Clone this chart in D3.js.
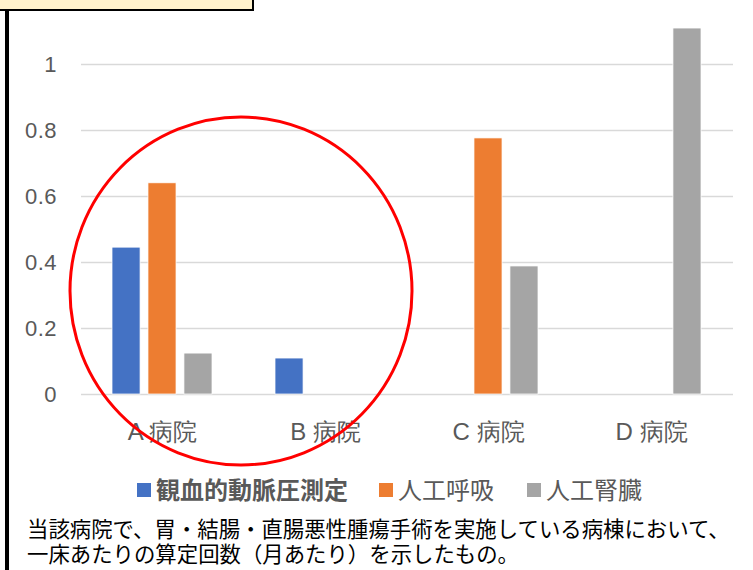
<!DOCTYPE html>
<html>
<head>
<meta charset="utf-8">
<script src="https://cdn.jsdelivr.net/npm/d3@7"></script>
<style>
  body { margin: 0; background: #fff; }
  svg { display: block; font-family: "Noto Sans CJK JP", "Noto Sans", sans-serif; }
</style>
</head>
<body>
<div id="chart"></div>
<script>
var width = 753
var height = 570

// data
var hospitals = ["A 病院", "B 病院", "C 病院", "D 病院"]
var seriesNames = ["観血的動脈圧測定", "人工呼吸", "人工腎臓"]
var seriesColors = ["#4472c4", "#ed7d31", "#a5a5a5"]
var arterial = [0.445, 0.109, null, null]
var ventilation = [0.64, null, 0.776, null]
var dialysis = [0.124, null, 0.388, 1.109]
var yTicks = [0, 0.2, 0.4, 0.6, 0.8, 1]
var captionLines = [
  "当該病院で、胃・結腸・直腸悪性腫瘍手術を実施している病棟において、",
  "一床あたりの算定回数（月あたり）を示したもの。"
]

var seriesValues = [arterial, ventilation, dialysis]

var svg = d3.select("#chart")
  .append("svg")
  .attr("width", width)
  .attr("height", height)

var plotLeft = 81
var plotRight = 733

// scales
var xScale = d3.scaleBand()
  .domain(hospitals)
  .range([plotLeft, plotRight])
  .paddingInner(0)
  .paddingOuter(0)

var xInner = d3.scaleBand()
  .domain(seriesNames)
  .range([31, 131])
  .paddingInner(0.22)

var yScale = d3.scaleLinear()
  .domain([0, 1])
  .range([394, 64])

// grid
var yGrid = d3.axisLeft(yScale)
  .tickValues(yTicks)
  .tickSize(-(plotRight - plotLeft))
  .tickFormat("")

svg.append("g")
  .attr("transform", `translate(${plotLeft},0)`)
  .attr("class", "grid")
  .call(yGrid)
  .call(g => g.select(".domain").remove())
  .selectAll("line")
  .style("stroke", "#d9d9d9")
  .style("stroke-width", 1.5)

// y axis labels
var yAxis = d3.axisLeft(yScale)
  .tickValues(yTicks)
  .tickSize(0)
  .tickPadding(0)
  .tickFormat(d => d)

svg.append("g")
  .attr("transform", `translate(57,0)`)
  .call(yAxis)
  .call(g => g.select(".domain").remove())
  .selectAll("text")
  .style("font-size", "22px")
  .style("letter-spacing", "0.5px")
  .style("fill", "#595959")

// x axis labels
var xAxis = d3.axisBottom(xScale)
  .tickSize(0)
  .tickPadding(0)

svg.append("g")
  .attr("transform", `translate(0,431)`)
  .call(xAxis)
  .call(g => g.select(".domain").remove())
  .selectAll("text")
  .attr("dy", "0.36em")
  .style("font-size", "24px")
  .style("fill", "#595959")

// bars
seriesValues.forEach(function(values, si) {
  var rows = hospitals.map((h, i) => ({ hospital: h, value: values[i] }))
    .filter(d => d.value != null)
  svg.append("g")
    .selectAll("rect")
    .data(rows)
    .enter()
    .append("rect")
    .attr("x", d => xScale(d.hospital) + xInner(seriesNames[si]))
    .attr("width", xInner.bandwidth())
    .attr("y", d => yScale(d.value))
    .attr("height", d => yScale(0) - yScale(d.value))
    .style("fill", seriesColors[si])
    .style("stroke", "#ffffff")
    .style("stroke-width", 0.75)
})

// legend
var legendX = [137, 379, 527]
var legend = svg.append("g")
  .selectAll("g")
  .data(seriesNames)
  .enter()
  .append("g")
  .attr("transform", (d, i) => `translate(${legendX[i]},490)`)

legend.append("rect")
  .attr("x", 0)
  .attr("y", -7)
  .attr("width", 14)
  .attr("height", 14)
  .style("fill", (d, i) => seriesColors[i])

legend.append("text")
  .attr("x", 19)
  .attr("dy", "0.36em")
  .style("font-size", "24px")
  .style("font-weight", (d, i) => i === 0 ? "700" : "400")
  .style("fill", "#595959")
  .text(d => d)

// red circle annotation
svg.append("ellipse")
  .attr("cx", 241)
  .attr("cy", 291)
  .attr("rx", 171)
  .attr("ry", 174)
  .style("fill", "none")
  .style("stroke", "#ff0000")
  .style("stroke-width", 3)

// left border line and top box
svg.append("line")
  .attr("x1", 7)
  .attr("x2", 7)
  .attr("y1", 0)
  .attr("y2", height)
  .style("stroke", "#000")
  .style("stroke-width", 4)

svg.append("rect")
  .attr("x", -2)
  .attr("y", -2)
  .attr("width", 255)
  .attr("height", 12)
  .style("fill", "#fff2cc")
  .style("stroke", "#000")
  .style("stroke-width", 2)

// caption
svg.append("g")
  .selectAll("text")
  .data(captionLines)
  .enter()
  .append("text")
  .attr("x", 27)
  .attr("y", (d, i) => 537 + i * 25)
  .style("font-size", "21.4px")
  .style("fill", "#000")
  .text(d => d)
</script>
</body>
</html>
